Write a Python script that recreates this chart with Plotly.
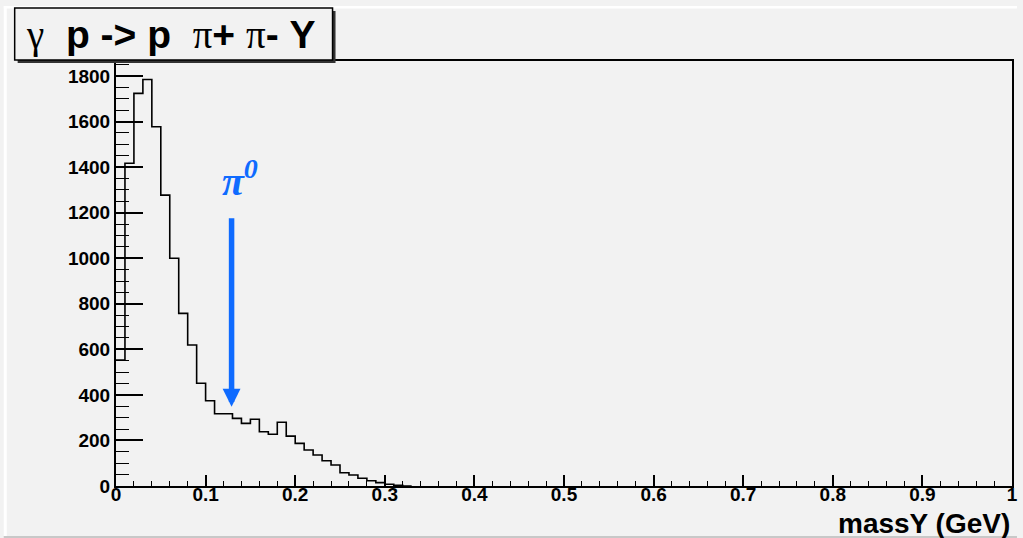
import plotly.graph_objects as go

# ---- data ----
bin_edges = [0.00, 0.01, 0.02, 0.03, 0.04, 0.05, 0.06, 0.07, 0.08, 0.09, 0.10,
             0.11, 0.12, 0.13, 0.14, 0.15, 0.16, 0.17, 0.18, 0.19, 0.20,
             0.21, 0.22, 0.23, 0.24, 0.25, 0.26, 0.27, 0.28, 0.29, 0.30,
             0.31, 0.32, 0.33]
counts = [553, 1417, 1724, 1785, 1577, 1277, 1000, 758, 619, 451,
          374, 317, 317, 297, 275, 293, 238, 227, 280, 219,
          187, 158, 136, 111, 92, 58, 48, 34, 23, 15,
          8, 3, 0]
y_tickvals = [0, 200, 400, 600, 800, 1000, 1200, 1400, 1600, 1800]
x_tickvals = [0, 0.1, 0.2, 0.3, 0.4, 0.5, 0.6, 0.7, 0.8, 0.9, 1.0]
pi0_mass = 0.129
arrow_top, arrow_tip = 1182, 348

# ---- layout geometry (pixels) ----
W, H = 1023, 538
L, R, T, B = 116, 1018, 61, 486
def px(x):
    return (x - L) / (R - L)
def py(y):
    return (B - y) / (B - T)

BG = "#f2f2f2"
BLUE = "#0f6bff"

fig = go.Figure()
fig.add_trace(go.Scatter(
    x=bin_edges, y=counts + [counts[-1]] if len(counts) < len(bin_edges) else counts,
    mode="lines", line=dict(shape="hv", color="black", width=1.6),
    hoverinfo="skip", showlegend=False))

axis_font = dict(family="Liberation Sans", size=19, color="black", weight="bold")
fig.update_layout(
    width=W, height=H,
    margin=dict(l=L, r=W - R, t=T, b=H - B, pad=0),
    paper_bgcolor=BG, plot_bgcolor=BG,
    showlegend=False,
    xaxis=dict(range=[0, 1], tickvals=x_tickvals, showticklabels=False,
               ticks="inside", ticklen=11, tickwidth=1.5, tickcolor="black",
               minor=dict(dtick=0.02, tick0=0, ticks="inside", ticklen=5.5, tickwidth=1.2, tickcolor="black"),
               showline=True, linecolor="black", linewidth=2, mirror=True,
               showgrid=False, zeroline=False),
    # label-only copy of the x axis, placed slightly higher to match ROOT's label offset
    xaxis2=dict(matches="x", overlaying="x", anchor="free", position=5 / (B - T),
                tickvals=x_tickvals, ticktext=[("%g" % v) for v in x_tickvals],
                ticks="", showline=False, showgrid=False, zeroline=False, tickfont=axis_font),
    yaxis=dict(range=[0, 1866], tickvals=y_tickvals,
               ticks="inside", ticklen=27, tickwidth=1.5, tickcolor="black",
               minor=dict(dtick=50, tick0=0, ticks="inside", ticklen=13, tickwidth=1.2, tickcolor="black"),
               showline=True, linecolor="black", linewidth=2, mirror=True,
               showgrid=False, zeroline=False, tickfont=axis_font),
)
# invisible trace to activate the label axis
fig.add_trace(go.Scatter(x=[bin_edges[0]], y=[counts[0]], xaxis="x2", yaxis="y",
                         mode="markers", marker=dict(opacity=0), hoverinfo="skip", showlegend=False))

shapes = []
# screenshot edges
shapes.append(dict(type="rect", xref="paper", yref="paper", x0=px(3), x1=px(1023), y0=py(6), y1=py(8.5),
                   fillcolor="white", line=dict(width=0), layer="below"))
shapes.append(dict(type="rect", xref="paper", yref="paper", x0=px(3), x1=px(6), y0=py(6), y1=py(536),
                   fillcolor="white", line=dict(width=0), layer="below"))
shapes.append(dict(type="rect", xref="paper", yref="paper", x0=px(3), x1=px(1023), y0=py(536), y1=py(538),
                   fillcolor="#c8c8c8", line=dict(width=0), layer="below"))
# title box with shadow
shapes.append(dict(type="rect", xref="paper", yref="paper", x0=px(17), x1=px(337), y0=py(11), y1=py(63),
                   fillcolor="#333333", line=dict(width=0)))
shapes.append(dict(type="rect", xref="paper", yref="paper", x0=px(14), x1=px(334), y0=py(8), y1=py(60),
                   fillcolor=BG, line=dict(color="black", width=1.5)))
fig.update_layout(shapes=shapes)

serif = 'font-family:Liberation Serif;font-weight:normal'
title = (f'<span style="{serif}">γ</span>  p -&gt; p  '
         f'<span style="{serif}">π</span>+ <span style="{serif}">π</span>- Y')
fig.add_annotation(x=px(171), y=py(35), xref="paper", yref="paper", text=title, showarrow=False,
                   xanchor="center", yanchor="middle",
                   font=dict(family="Liberation Sans", size=39, color="black", weight="bold"))

fig.add_annotation(x=px(1018), y=py(523), xref="paper", yref="paper", text="massY (GeV)", showarrow=False,
                   xanchor="right", yanchor="middle",
                   font=dict(family="Liberation Sans", size=28, color="black", weight="bold"))

# pi0 arrow
fig.add_annotation(x=pi0_mass, y=arrow_tip, ax=pi0_mass, ay=arrow_top, xref="x", yref="y",
                   axref="x", ayref="y", text="", showarrow=True, arrowhead=2,
                   arrowwidth=5.5, arrowsize=0.65, arrowcolor=BLUE)
fig.add_annotation(x=px(241), y=py(178), xref="paper", yref="paper",
                   text="<b><i>π<sup>0</sup></i></b>", showarrow=False,
                   xanchor="center", yanchor="middle",
                   font=dict(family="Liberation Serif", size=40, color=BLUE))

fig.write_html("out.html")
